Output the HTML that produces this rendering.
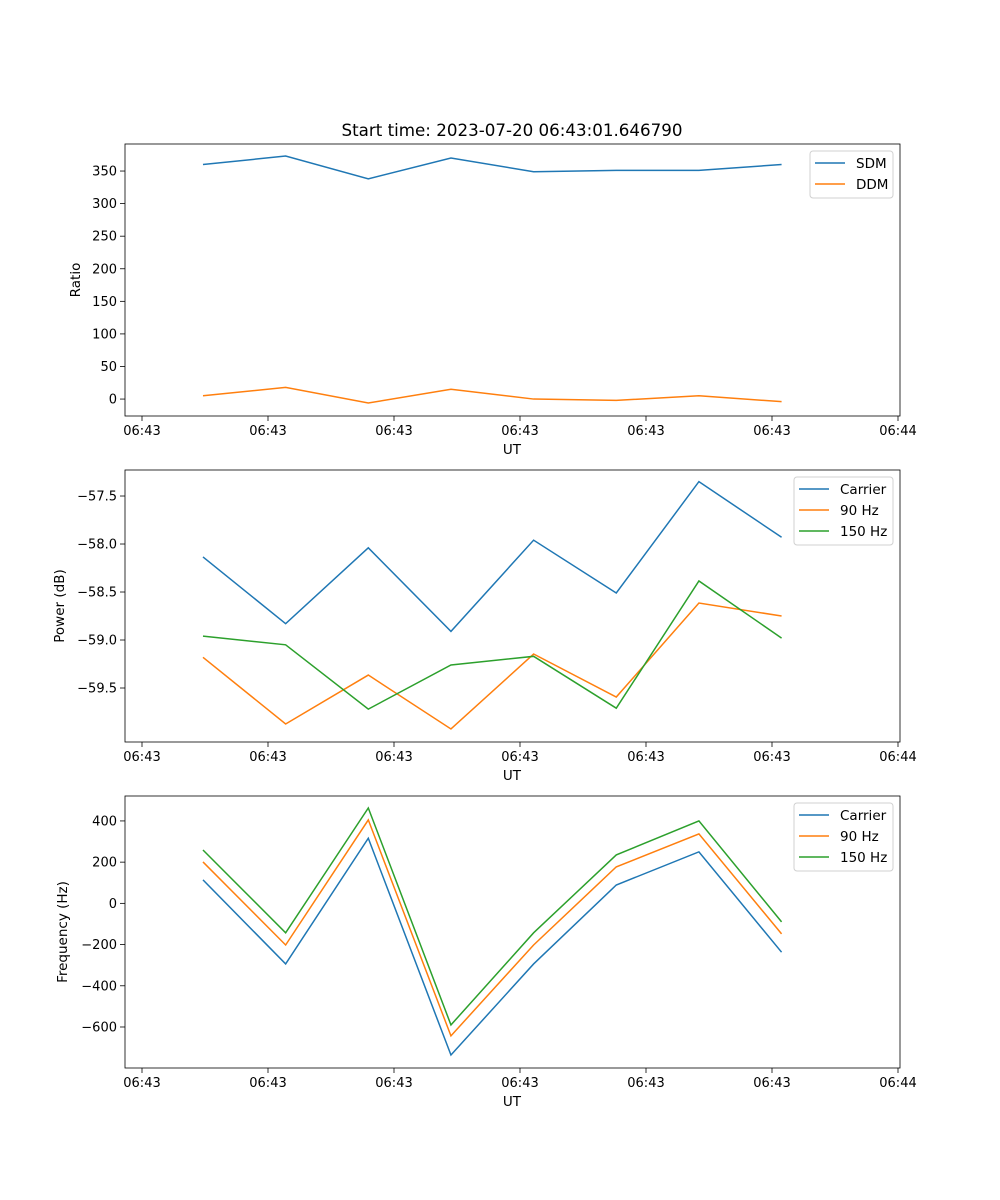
<!DOCTYPE html>
<html><head><meta charset="utf-8"><style>
body{margin:0;background:#fff}
svg{display:block;font-family:"DejaVu Sans","Liberation Sans",sans-serif}
</style></head><body>
<svg id="fig" width="1000" height="1200">
<text x="512" y="136" font-size="16.7" text-anchor="middle">Start time: 2023-07-20 06:43:01.646790</text>
</svg>
<script>
const xTickLabels = ["06:43","06:43","06:43","06:43","06:43","06:43","06:44"];
const times = [0.484,1.14,1.796,2.452,3.108,3.764,4.42,5.076];
const sdm = [360,373,338,370,349,351,351,360];
const ddm = [5,18,-6,15,0,-2,5,-4];
const pCarrier = [-58.135,-58.83,-58.04,-58.91,-57.96,-58.51,-57.35,-57.93];
const p90 = [-59.18,-59.875,-59.365,-59.927,-59.146,-59.594,-58.615,-58.75];
const p150 = [-58.96,-59.05,-59.72,-59.26,-59.17,-59.71,-58.385,-58.98];
const fCarrier = [114,-294,316,-736,-294,89,250,-237];
const f90 = [201,-202,405,-643,-202,177,337,-148];
const f150 = [259,-143,463,-590,-143,235,400,-90];
const yTicks1 = [0,50,100,150,200,250,300,350];
const yTicks2 = [-57.5,-58.0,-58.5,-59.0,-59.5];
const yTicks3 = [-600,-400,-200,0,200,400];

const NS="http://www.w3.org/2000/svg";
const svg=document.getElementById('fig');
function mk(tag,attrs,parent){const e=document.createElementNS(NS,tag);for(const k in attrs)e.setAttribute(k,attrs[k]);(parent||svg).appendChild(e);return e;}
const L=125,R=900;
const xs=t=>142+t*126;
function panel(idx,top,bot,ymin,ymax,yticks,fmt,ylabel,series,legend){
  const g=mk('g',{});
  
  
  const ys=v=>bot-(v-ymin)/(ymax-ymin)*(bot-top);
  series.forEach(s=>{
    const p=mk('polyline',{points:s.vals.map((v,i)=>xs(times[i])+','+ys(v)).join(' '),fill:'none',stroke:s.color,'stroke-width':1.5},g);
    
    
  });
  const fr=mk('rect',{x:L,y:top,width:R-L,height:bot-top,fill:'none',stroke:'#000','stroke-width':0.8},g);
  
  
  xTickLabels.forEach((lab,i)=>{
    const x=xs(i);
    mk('line',{x1:x,x2:x,y1:bot,y2:bot+5,stroke:'#000','stroke-width':0.8},g);
    const t=mk('text',{x:x,y:bot+19,'font-size':13,'text-anchor':'middle'},g);t.textContent=lab;
    
    
  });
  yticks.forEach(v=>{
    const y=ys(v);
    mk('line',{x1:L-5,x2:L,y1:y,y2:y,stroke:'#000','stroke-width':0.8},g);
    const t=mk('text',{x:L-8,y:y+4.5,'font-size':13,'text-anchor':'end'},g);t.textContent=fmt(v);
    
    
  });
  const xl=mk('text',{x:512,y:bot+38,'font-size':13.5,'text-anchor':'middle'},g);xl.textContent='UT';
  
  
  const cy=(top+bot)/2;
  const yl=mk('text',{x:0,y:0,'font-size':13.5,'text-anchor':'middle',transform:`translate(${legend.ylx},${cy}) rotate(-90)`},g);yl.textContent=ylabel;
  
  
  const lg=mk('g',{},g);
  
  
  mk('rect',{x:legend.x,y:top+7,width:893-legend.x,height:series.length*21+5,rx:3,fill:'#fff',stroke:'#ccc','stroke-width':1,opacity:0.9},lg);
  series.forEach((s,i)=>{
    const y=top+19+i*21;
    mk('line',{x1:legend.x+5,x2:legend.x+35,y1:y,y2:y,stroke:s.color,'stroke-width':1.5},lg);
    const t=mk('text',{x:legend.x+46,y:y+5,'font-size':13.5},lg);t.textContent=s.label;
    
    
  });
}
const fmtMinus=d=>v=>(v<0?'\u2212':'')+Math.abs(v).toFixed(d);
panel(1,144,416,-26,391.5,yTicks1,fmtMinus(0),'Ratio',
  [{name:'sdm',label:'SDM',color:'#1f77b4',vals:sdm},{name:'ddm',label:'DDM',color:'#ff7f0e',vals:ddm}],{x:810,ylx:80});
panel(2,470,742,-60.0625,-57.229,yTicks2,fmtMinus(1),'Power (dB)',
  [{name:'carrier',label:'Carrier',color:'#1f77b4',vals:pCarrier},{name:'90hz',label:'90 Hz',color:'#ff7f0e',vals:p90},{name:'150hz',label:'150 Hz',color:'#2ca02c',vals:p150}],{x:794,ylx:64});
panel(3,796,1068,-799,521,yTicks3,fmtMinus(0),'Frequency (Hz)',
  [{name:'carrier',label:'Carrier',color:'#1f77b4',vals:fCarrier},{name:'90hz',label:'90 Hz',color:'#ff7f0e',vals:f90},{name:'150hz',label:'150 Hz',color:'#2ca02c',vals:f150}],{x:794,ylx:67});
</script>
</body></html>
